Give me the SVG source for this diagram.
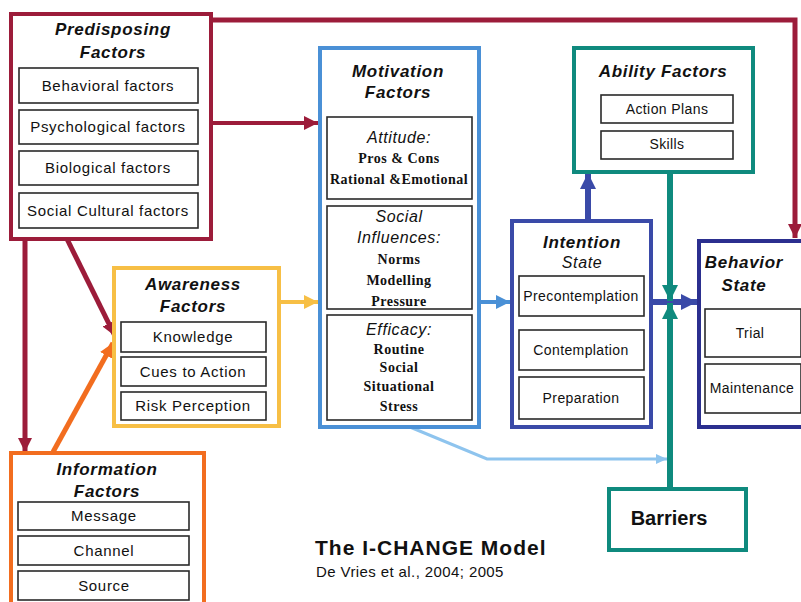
<svg xmlns="http://www.w3.org/2000/svg" width="801" height="602" viewBox="0 0 801 602">
<style>
.bg{fill:#fff}
.sub{fill:#fff;stroke:#2a2a2a;stroke-width:1.6}
.lbl{font-family:"Liberation Sans",Arial,sans-serif;font-size:15px;letter-spacing:0.7px;fill:#111;text-anchor:middle}
.lbr{font-family:"Liberation Sans",Arial,sans-serif;font-size:14px;letter-spacing:0.4px;fill:#111;text-anchor:middle}
.ttl{font-family:"Liberation Sans",Arial,sans-serif;font-size:17px;letter-spacing:0.7px;font-weight:bold;font-style:italic;fill:#111;text-anchor:middle}
.it{font-family:"Liberation Sans",Arial,sans-serif;font-size:16px;letter-spacing:0.6px;font-style:italic;fill:#111;text-anchor:middle}
.ser{font-family:"Liberation Serif","Times New Roman",serif;font-size:14px;letter-spacing:0.5px;font-weight:bold;fill:#111;text-anchor:middle}
.con{fill:none;stroke-linejoin:miter}
</style>
<defs>
<marker id="mCr" markerUnits="userSpaceOnUse" markerWidth="16" markerHeight="16" refX="14" refY="8" orient="auto"><path d="M0,1 L14,8 L0,15 Z" fill="#9c1c3a"/></marker>
<marker id="mYe" markerUnits="userSpaceOnUse" markerWidth="16" markerHeight="16" refX="14" refY="8" orient="auto"><path d="M0,1 L14,8 L0,15 Z" fill="#f7bf45"/></marker>
<marker id="mOr" markerUnits="userSpaceOnUse" markerWidth="16" markerHeight="16" refX="14" refY="8" orient="auto"><path d="M0,1 L14,8 L0,15 Z" fill="#f26d1f"/></marker>
<marker id="mBl" markerUnits="userSpaceOnUse" markerWidth="16" markerHeight="16" refX="14" refY="8" orient="auto"><path d="M0,1 L14,8 L0,15 Z" fill="#4a90d6"/></marker>
<marker id="mDb" markerUnits="userSpaceOnUse" markerWidth="18" markerHeight="18" refX="16" refY="9" orient="auto"><path d="M0,1 L16,9 L0,17 Z" fill="#3a4aa8"/></marker>
<marker id="mTe" markerUnits="userSpaceOnUse" markerWidth="18" markerHeight="18" refX="16" refY="9" orient="auto"><path d="M0,1 L16,9 L0,17 Z" fill="#0f8a7e"/></marker>
<marker id="mLb" markerUnits="userSpaceOnUse" markerWidth="12" markerHeight="12" refX="11" refY="6" orient="auto"><path d="M0,1 L11,6 L0,11 Z" fill="#8ec4ee"/></marker>
</defs>
<rect class="bg" x="0" y="0" width="801" height="602"/>

<g id="connectors">
<path class="con" d="M212,20 L795,20 L795,238" stroke="#9c1c3a" stroke-width="5" marker-end="url(#mCr)"/>
<path class="con" d="M212,123 L318,123" stroke="#9c1c3a" stroke-width="4" marker-end="url(#mCr)"/>
<path class="con" d="M25,239 L25,452" stroke="#9c1c3a" stroke-width="5" marker-end="url(#mCr)"/>
<path class="con" d="M67,239 L115,336" stroke="#9c1c3a" stroke-width="5" marker-end="url(#mCr)"/>
<path class="con" d="M53,452 L113,343" stroke="#f26d1f" stroke-width="5" marker-end="url(#mOr)"/>
<path class="con" d="M279,302 L318,302" stroke="#f7bf45" stroke-width="4" marker-end="url(#mYe)"/>
<path class="con" d="M480,302 L510,302" stroke="#4a90d6" stroke-width="4" marker-end="url(#mBl)"/>
<path class="con" d="M588,220 L588,173" stroke="#3a4aa8" stroke-width="6" marker-end="url(#mDb)"/>
<path class="con" d="M652,302 L697,302" stroke="#3a4aa8" stroke-width="6" marker-end="url(#mDb)"/>
<path class="con" d="M670,173 L670,301" stroke="#0f8a7e" stroke-width="6" marker-end="url(#mTe)"/>
<path class="con" d="M670,487 L670,303" stroke="#0f8a7e" stroke-width="6" marker-end="url(#mTe)"/>
<path class="con" d="M393,420 L487,459 L667,459" stroke="#8ec4ee" stroke-width="3" marker-end="url(#mLb)"/>
</g>

<g id="predisposing">
<rect x="11" y="14" width="200" height="225" fill="#fff" stroke="#9c1c3a" stroke-width="4"/>
<text class="ttl" x="113" y="35">Predisposing</text>
<text class="ttl" x="113" y="58">Factors</text>
<rect class="sub" x="19" y="68" width="179" height="35"/>
<text class="lbl" x="108" y="91">Behavioral factors</text>
<rect class="sub" x="19" y="110" width="179" height="34"/>
<text class="lbl" x="108" y="132">Psychological factors</text>
<rect class="sub" x="19" y="151" width="179" height="34"/>
<text class="lbl" x="108" y="173">Biological factors</text>
<rect class="sub" x="19" y="193" width="179" height="35"/>
<text class="lbl" x="108" y="216">Social Cultural factors</text>
</g>

<g id="awareness">
<rect x="114" y="268" width="165" height="158" fill="#fff" stroke="#f7bf45" stroke-width="4"/>
<text class="ttl" x="193" y="290">Awareness</text>
<text class="ttl" x="193" y="312">Factors</text>
<rect class="sub" x="121" y="322" width="145" height="30"/>
<text class="lbl" x="193" y="342">Knowledge</text>
<rect class="sub" x="121" y="357" width="145" height="29"/>
<text class="lbl" x="193" y="377">Cues to Action</text>
<rect class="sub" x="121" y="392" width="145" height="28"/>
<text class="lbl" x="193" y="411">Risk Perception</text>
</g>

<g id="information">
<rect x="11" y="453" width="193" height="160" fill="#fff" stroke="#f26d1f" stroke-width="4"/>
<text class="ttl" x="107" y="475">Information</text>
<text class="ttl" x="107" y="497">Factors</text>
<rect class="sub" x="18" y="502" width="171" height="28"/>
<text class="lbl" x="104" y="521">Message</text>
<rect class="sub" x="18" y="536" width="171" height="29"/>
<text class="lbl" x="104" y="556">Channel</text>
<rect class="sub" x="18" y="571" width="171" height="29"/>
<text class="lbl" x="104" y="591">Source</text>
</g>

<g id="motivation">
<rect x="320" y="48" width="159" height="379" fill="#fff" stroke="#4a90d6" stroke-width="4"/>
<text class="ttl" x="398" y="77">Motivation</text>
<text class="ttl" x="398" y="98">Factors</text>
<rect class="sub" x="327" y="117" width="145" height="82"/>
<text class="it" x="399" y="143">Attitude:</text>
<text class="ser" x="399" y="163">Pros &amp; Cons</text>
<text class="ser" x="399" y="184">Rational &amp;Emotional</text>
<rect class="sub" x="327" y="206" width="145" height="103"/>
<text class="it" x="399" y="222">Social</text>
<text class="it" x="399" y="243">Influences:</text>
<text class="ser" x="399" y="264">Norms</text>
<text class="ser" x="399" y="285">Modelling</text>
<text class="ser" x="399" y="306">Pressure</text>
<rect class="sub" x="327" y="315" width="145" height="105"/>
<text class="it" x="399" y="335">Efficacy:</text>
<text class="ser" x="399" y="354">Routine</text>
<text class="ser" x="399" y="372">Social</text>
<text class="ser" x="399" y="391">Situational</text>
<text class="ser" x="399" y="411">Stress</text>
</g>

<g id="ability">
<rect x="574" y="48" width="179" height="124" fill="#fff" stroke="#0f8a7e" stroke-width="4"/>
<text class="ttl" x="663" y="77">Ability Factors</text>
<rect class="sub" x="601" y="95" width="132" height="28"/>
<text class="lbr" x="667" y="114">Action Plans</text>
<rect class="sub" x="601" y="131" width="132" height="28"/>
<text class="lbr" x="667" y="149">Skills</text>
</g>

<g id="intention">
<rect x="512" y="221" width="139" height="206" fill="#fff" stroke="#3a4aa8" stroke-width="4"/>
<text class="ttl" x="582" y="248">Intention</text>
<text class="it" x="582" y="268">State</text>
<rect class="sub" x="519" y="276" width="125" height="40"/>
<text class="lbr" x="581" y="301">Precontemplation</text>
<rect class="sub" x="519" y="330" width="125" height="40"/>
<text class="lbr" x="581" y="355">Contemplation</text>
<rect class="sub" x="519" y="377" width="125" height="42"/>
<text class="lbr" x="581" y="403">Preparation</text>
</g>

<g id="behavior">
<rect x="699" y="241" width="110" height="186" fill="#fff" stroke="#2b2f8f" stroke-width="4"/>
<text class="ttl" x="744" y="268">Behavior</text>
<text class="ttl" x="744" y="291">State</text>
<rect class="sub" x="705" y="309" width="96" height="48"/>
<text class="lbr" x="750" y="338">Trial</text>
<rect class="sub" x="705" y="364" width="96" height="49"/>
<text class="lbr" x="752" y="393">Maintenance</text>
</g>

<g id="barriers">
<rect x="609" y="489" width="137" height="61" fill="#fff" stroke="#0f8a7e" stroke-width="4"/>
<text x="669" y="525" font-family="'Liberation Sans',Arial,sans-serif" font-size="20" font-weight="bold" fill="#111" text-anchor="middle">Barriers</text>
</g>

<g id="title">
<text x="315" y="555" font-family="'Liberation Sans',Arial,sans-serif" font-size="21" font-weight="bold" letter-spacing="1" fill="#111">The I-CHANGE Model</text>
<text x="316" y="577" font-family="'Liberation Sans',Arial,sans-serif" font-size="15" letter-spacing="0.4" fill="#111">De Vries et al., 2004; 2005</text>
</g>
</svg>
